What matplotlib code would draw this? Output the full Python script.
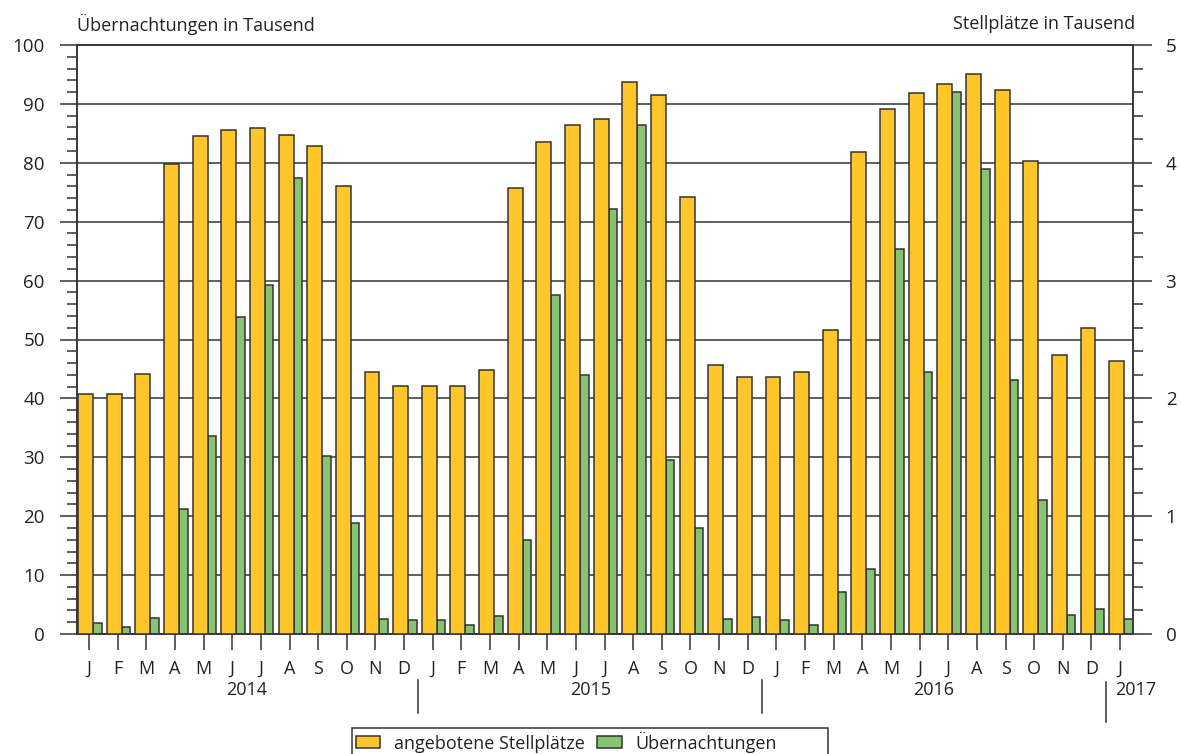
import matplotlib
matplotlib.use("Agg")
import matplotlib.pyplot as plt
import matplotlib.ticker as mticker
from matplotlib.lines import Line2D
from matplotlib.patches import Rectangle
import numpy as np

# Monthly values Jan 2014 - Jan 2017
months = ["J", "F", "M", "A", "M", "J", "J", "A", "S", "O", "N", "D"] * 3 + ["J"]
years = ["2014", "2015", "2016", "2017"]

# angebotene Stellplätze (Tausend, right axis)
stellplaetze = [2.035, 2.035, 2.205, 3.990, 4.225, 4.280, 4.295, 4.240, 4.145, 3.805, 2.220, 2.105,
                2.105, 2.105, 2.240, 3.790, 4.180, 4.325, 4.375, 4.685, 4.575, 3.710, 2.285, 2.185,
                2.185, 2.220, 2.580, 4.095, 4.455, 4.590, 4.670, 4.755, 4.620, 4.015, 2.365, 2.595,
                2.315]

# Übernachtungen (Tausend, left axis)
uebernachtungen = [1.9, 1.2, 2.7, 21.2, 33.6, 53.8, 59.3, 77.5, 30.3, 18.9, 2.6, 2.3,
                   2.3, 1.6, 3.0, 15.9, 57.5, 44.0, 72.1, 86.5, 29.5, 18.0, 2.6, 2.9,
                   2.3, 1.6, 7.1, 11.1, 65.3, 44.4, 92.1, 79.0, 43.1, 22.8, 3.3, 4.3,
                   2.5]

ORANGE = "#FFC629"
GREEN = "#86C473"
DARK = "#333333"
TXT = "#222222"

plt.rcParams.update({
    "font.family": ["Open Sans", "DejaVu Sans"],
    "font.size": 13,
    "text.color": TXT,
    "axes.edgecolor": DARK,
    "xtick.color": DARK,
    "ytick.color": DARK,
    "xtick.labelcolor": TXT,
    "ytick.labelcolor": TXT,
})

W, H = 1181, 754
fig = plt.figure(figsize=(W / 100, H / 100), dpi=100)
ax = fig.add_axes([77 / W, 120 / H, 1056 / W, 589 / H])
ax2 = ax.twinx()

x = np.arange(len(months))
lw = 1.1

ax.bar(x + 0.14, uebernachtungen, width=0.30, align="edge", color=GREEN,
       edgecolor=DARK, linewidth=lw, zorder=3)
ax2.bar(x - 0.38, stellplaetze, width=0.52, align="edge", color=ORANGE,
        edgecolor=DARK, linewidth=lw, zorder=3)

ax.set_xlim(-0.42, 36.45)
ax.set_ylim(0, 100)
ax2.set_ylim(0, 5)

ax.set_axisbelow(True)
ax.yaxis.grid(True, color=DARK, linewidth=lw)

ax.yaxis.set_major_locator(mticker.MultipleLocator(10))
ax.yaxis.set_minor_locator(mticker.MultipleLocator(2))
ax2.yaxis.set_major_locator(mticker.MultipleLocator(1))
ax2.yaxis.set_minor_locator(mticker.MultipleLocator(0.2))

ax.tick_params(axis="y", which="major", direction="out", length=12.2, width=lw,
               pad=11, labelsize=13.5)
ax.tick_params(axis="y", which="minor", direction="out", length=7.2, width=lw)
ax2.tick_params(axis="y", which="major", direction="out", length=13.5, width=lw,
                pad=10, labelsize=13.5)
ax2.tick_params(axis="y", which="minor", direction="out", length=7.2, width=lw)

ax.set_xticks(x)
ax.set_xticklabels(months)
ax.tick_params(axis="x", direction="out", length=11.5, width=lw, pad=7, labelsize=13)

for a in (ax, ax2):
    for s in a.spines.values():
        s.set_linewidth(lw)
        s.set_color(DARK)

# year labels and separators below the month labels
trans = ax.get_xaxis_transform()
for i, yr in enumerate(years[:3]):
    ax.text(i * 12 + 5.5, -0.095, yr, transform=trans, ha="center", va="center",
            fontsize=13)
ax.text(35.83, -0.095, years[3], transform=trans, ha="left", va="center", fontsize=13)
for xs, y0, y1 in [(11.5, -0.078, -0.134), (23.5, -0.078, -0.134), (35.5, -0.081, -0.149)]:
    ax.add_line(Line2D([xs, xs], [y0, y1], transform=trans, color=DARK,
                       linewidth=lw, clip_on=False))

fig.text(77 / W, 1 - 24 / H, "Übernachtungen in Tausend", ha="left",
         va="center", fontsize=13)
fig.text(1135 / W, 1 - 24 / H, "Stellplätze in Tausend", ha="right",
         va="center", fontsize=13)

# legend: entries plus a fixed-width frame
handles = [Rectangle((0, 0), 1, 1, facecolor=ORANGE, edgecolor=DARK, linewidth=lw),
           Rectangle((0, 0), 1, 1, facecolor=GREEN, edgecolor=DARK, linewidth=lw)]
fig.legend(handles, ["angebotene Stellplätze", "Übernachtungen"], ncol=2,
           loc="center left", bbox_to_anchor=(356 / W, 1 - 742 / H),
           frameon=False, fontsize=13, handlelength=1.35, handleheight=0.6,
           handletextpad=0.75, columnspacing=0.7, borderpad=0, borderaxespad=0)
fig.patches.append(Rectangle((352 / W, 1 - 762 / H), 476 / W, 34 / H,
                             transform=fig.transFigure, facecolor="none",
                             edgecolor=DARK, linewidth=lw))

fig.savefig("out.png", dpi=100)
